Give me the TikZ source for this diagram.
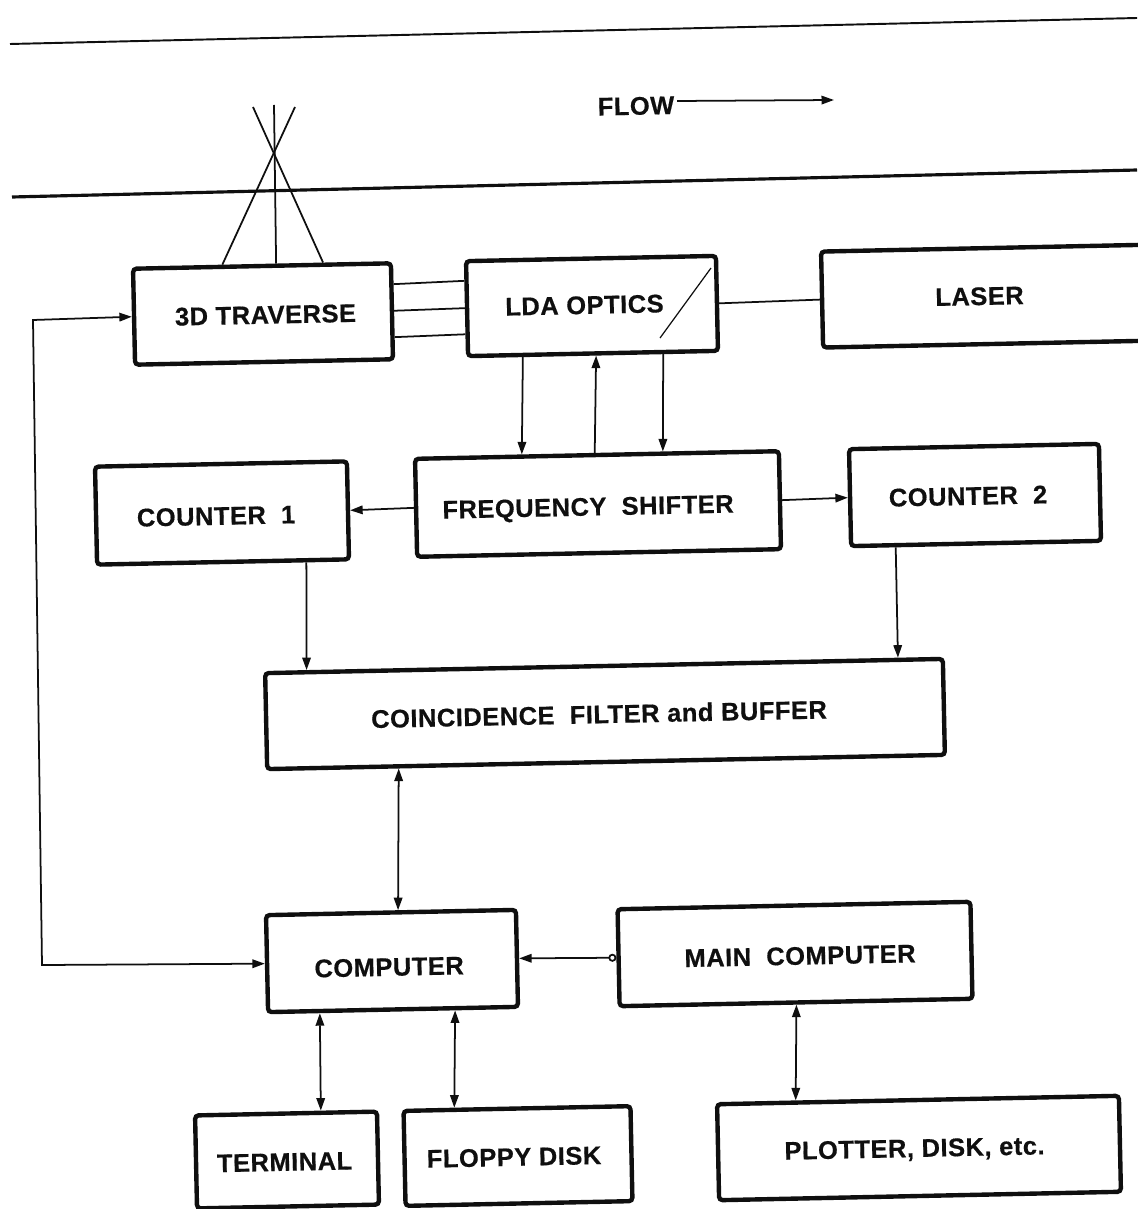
\documentclass[tikz,border=0pt]{standalone}
\usepackage{fontspec}
\setmainfont{Liberation Sans}[LetterSpace=2, BoldFeatures={FakeBold=0.5}]
\usetikzlibrary{arrows.meta, positioning, calc}
\definecolor{DG}{RGB}{15,15,15}
\newcommand{\nudge}[3]{\hspace*{#1}\raisebox{#2}[\height][\depth]{#3}}

\begin{document}
\begin{tikzpicture}[
  x=0.02cm, y=-0.02cm,
  box/.style={draw=DG, line width=2.5pt, rounded corners=2pt, rotate=1.2,
              align=center, text=DG, inner sep=0pt,
              font=\fontsize{14.5}{17}\selectfont\bfseries},
  rul/.style={draw=DG, line width=#1},
  thin line/.style={draw=DG, line width=1pt},
  arr/.style={-{Stealth[inset=0pt, length=.25cm, width=.17cm]}, draw=DG, line width=1pt},
  darr/.style={{Stealth[inset=0pt, length=.25cm, width=.17cm]}-{Stealth[inset=0pt, length=.25cm, width=.17cm]}, draw=DG, line width=1pt}
]
\useasboundingbox (0,0) rectangle (1137,1209);

\node[box, minimum width=5.16cm, minimum height=1.92cm] (traverse) at (263,314)  {\nudge{.1cm}{-.02cm}{3D TRAVERSE}};
\node[box, minimum width=5.0cm,  minimum height=1.9cm]  (optics)   at (592,306)  {\nudge{-.3cm}{.02cm}{LDA OPTICS}};
\node[box, minimum width=6.8cm,  minimum height=1.92cm] (laser)    at (992,296)  {\nudge{-.5cm}{.0cm}{LASER}};
\node[box, minimum width=5.04cm, minimum height=1.96cm] (countA)   at (222,513)  {\nudge{-.24cm}{-.06cm}{COUNTER\ \ 1}};
\node[box, minimum width=7.28cm, minimum height=1.96cm] (shifter)  at (598,504)  {\nudge{-.4cm}{-.1cm}{FREQUENCY\ \ SHIFTER}};
\node[box, minimum width=5.0cm,  minimum height=1.94cm] (countB)   at (975,495)  {\nudge{-.28cm}{-.02cm}{COUNTER\ \ 2}};
\node[box, minimum width=13.56cm,minimum height=1.92cm] (filter)   at (605,714)  {\nudge{-.24cm}{0cm}{COINCIDENCE\ \ FILTER\ and\ BUFFER}};
\node[box, minimum width=5.0cm,  minimum height=1.94cm] (computer) at (392,961)  {\nudge{-.12cm}{-.12cm}{COMPUTER}};
\node[box, minimum width=7.06cm, minimum height=1.94cm] (main)     at (795,954)  {\nudge{.2cm}{-.04cm}{MAIN\ \ COMPUTER}};
\node[box, minimum width=3.64cm, minimum height=1.86cm] (terminal) at (287,1160) {\nudge{-.1cm}{-.04cm}{TERMINAL}};
\node[box, minimum width=4.54cm, minimum height=1.9cm]  (floppy)   at (518,1156) {\nudge{-.16cm}{-.02cm}{FLOPPY DISK}};
\node[box, minimum width=8.04cm, minimum height=1.92cm] (plotter)  at (919,1148) {\nudge{-.18cm}{-.04cm}{PLOTTER, DISK, etc.}};

% channel walls and flow direction
\coordinate (wallAl) at (10,44);
\coordinate (wallAr) at (1137,18);
\coordinate (wallBl) at (12,197);
\coordinate (wallBr) at (1137,170);
\draw[rul=1.1pt] (wallAl)--(wallAr);
\draw[rul=1.8pt] (wallBl)--(wallBr);
\node[box, draw=none, rotate=0] (flow) at (636,106) {FLOW};
\coordinate (flowEnd) at (834,100);
\coordinate (flowStart) at (677,101);
\draw[arr] (flowStart)--(flowEnd);

% beams
\coordinate (beamL) at (253,107);
\coordinate (beamM) at (274,105);
\coordinate (beamR) at (295,107);
\draw[thin line] (beamL)--($(traverse.north west)!.733!(traverse.north east)$);
\draw[thin line] (beamM)--($(traverse.north west)!.554!(traverse.north east)$);
\draw[thin line] (beamR)--($(traverse.north west)!.349!(traverse.north east)$);

% mirror
\coordinate (mirrorA) at (660,338);
\coordinate (mirrorB) at (711,268);
\draw[draw=DG, line width=0.7pt] (mirrorA)--(mirrorB);

% connectors
\draw[thin line] ($(traverse.north east)!.23!(traverse.south east)$)--($(optics.north west)!.22!(optics.south west)$);
\draw[thin line] ($(traverse.north east)!.495!(traverse.south east)$)--($(optics.north west)!.495!(optics.south west)$);
\draw[thin line] ($(traverse.north east)!.758!(traverse.south east)$)--($(optics.north west)!.758!(optics.south west)$);
\draw[thin line] (optics.east)--(laser.west);
\draw[arr] ($(optics.south west)!.224!(optics.south east)$)--($(shifter.north west)!.296!(shifter.north east)$);
\draw[arr] ($(shifter.north west)!.494!(shifter.north east)$)--($(optics.south west)!.512!(optics.south east)$);
\draw[arr] ($(optics.south west)!.776!(optics.south east)$)--($(shifter.north west)!.679!(shifter.north east)$);
\draw[arr] (shifter.west)--(countA.east);
\draw[arr] (shifter.east)--(countB.west);
\draw[arr] ($(countA.south west)!.825!(countA.south east)$)--($(filter.north west)!.064!(filter.north east)$);
\draw[arr] ($(countB.south west)!.184!(countB.south east)$)--($(filter.north west)!.931!(filter.north east)$);
\draw[darr] ($(filter.south west)!.196!(filter.south east)$)--($(computer.north west)!.528!(computer.north east)$);
\draw[{Stealth[inset=0pt, length=.25cm, width=.17cm]}-{Circle[open, length=.16cm]}, draw=DG, line width=1pt] (computer.east)--(main.west);
\draw[darr] ($(computer.south west)!.212!(computer.south east)$)--($(terminal.north west)!.687!(terminal.north east)$);
\draw[darr] ($(computer.south west)!.744!(computer.south east)$)--($(floppy.north west)!.229!(floppy.north east)$);
\draw[darr] ($(main.south west)!.501!(main.south east)$)--($(plotter.north west)!.199!(plotter.north east)$);

% feedback to the traverse
\coordinate (backA) at (42,965);
\coordinate (backB) at (33,320);
\draw[darr] (computer.west)--(backA)--(backB)--(traverse.west);
\end{tikzpicture}
\end{document}
